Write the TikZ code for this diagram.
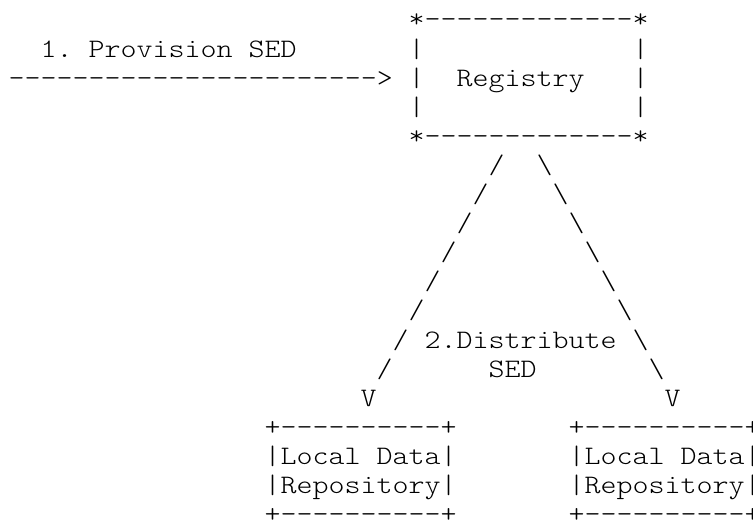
\documentclass[tikz,border=0pt]{standalone}
\usepackage{fontspec}
\setmonofont{Latin Modern Mono Light}[FakeStretch=1.1429]
\tikzset{
  ascii/.style={anchor=base west, inner sep=0pt, outer sep=0pt,
    font=\ttfamily\fontsize{26.67pt}{29pt}\selectfont, text=black}
}
% place a named text cell at a character column and text row
\newcommand\cellat[4]{\node[ascii] (#1) at ({8.7+16*(#2)},{497-29.1*(#3)}) {#4};}
\begin{document}
\frenchspacing
\begin{tikzpicture}[x=1pt,y=1pt]
\useasboundingbox (0,0) rectangle (753,525);
% Registry box
\cellat{regTop}{25}{0}{*-------------*}
\cellat{provLabel}{2}{1}{1. Provision SED}
\cellat{regLa}{25}{1}{|}
\cellat{regRa}{39}{1}{|}
\cellat{provArrow}{0}{2}{----------------------->}
\cellat{regLb}{25}{2}{|}
\cellat{registry}{28}{2}{Registry}
\cellat{regRb}{39}{2}{|}
\cellat{regLc}{25}{3}{|}
\cellat{regRc}{39}{3}{|}
\cellat{regBot}{25}{4}{*-------------*}
% distribution lines
\foreach \r in {5,...,12}{
  \cellat{sl\r}{35-\r}{\r}{/}
  \cellat{bs\r}{28+\r}{\r}{\textbackslash}
}
\cellat{distLabel}{26}{11}{2.Distribute}
\cellat{distSED}{30}{12}{SED}
\cellat{vLeft}{22}{13}{V}
\cellat{vRight}{41}{13}{V}
% local data repositories
\cellat{ldaTop}{16}{14}{+----------+}
\cellat{ldaA}{16}{15}{|Local Data|}
\cellat{ldaB}{16}{16}{|Repository|}
\cellat{ldaBot}{16}{17}{+----------+}
\cellat{ldbTop}{35}{14}{+----------+}
\cellat{ldbA}{35}{15}{|Local Data|}
\cellat{ldbB}{35}{16}{|Repository|}
\cellat{ldbBot}{35}{17}{+----------+}
\end{tikzpicture}
\end{document}
